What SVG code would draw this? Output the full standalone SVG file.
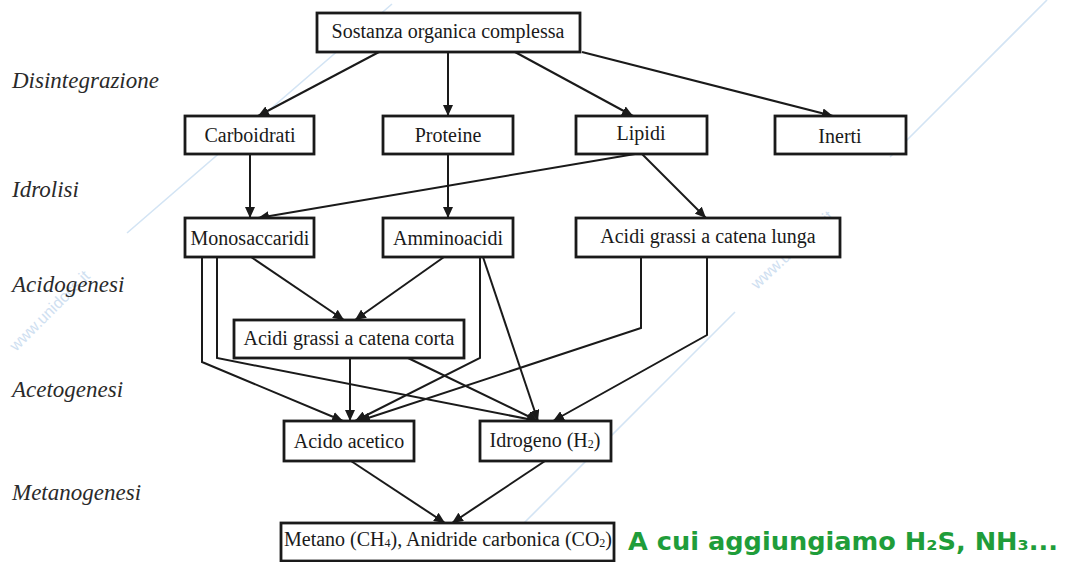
<svg xmlns="http://www.w3.org/2000/svg" width="1067" height="562" viewBox="0 0 1067 562">
<defs>
<style>
.box{fill:#fff;stroke:#1a1a1a;stroke-width:2.8}
.lbl{font-family:"Liberation Serif","Times New Roman",serif;font-size:20px;fill:#1a1a1a;text-anchor:middle}
.stage{font-family:"Liberation Serif","Times New Roman",serif;font-style:italic;font-size:23px;fill:#2a2a2a}
.con{fill:none;stroke:#1a1a1a;stroke-width:2;marker-end:url(#ah)}
.wm{stroke:#d3e4f4;stroke-width:1.6;fill:none}
.wmt{font-family:"Liberation Sans",Arial,sans-serif;font-size:16px;fill:#cfe0f1}
.note{font-family:"Comic Sans MS","DejaVu Sans",sans-serif;font-weight:bold;font-size:25px;fill:#1f9d3a}
</style>
<marker id="ah" markerWidth="11" markerHeight="10" refX="11" refY="5" orient="auto" markerUnits="userSpaceOnUse">
<path d="M0,0 L11,5 L0,10 z" fill="#1a1a1a"/>
</marker>
</defs>
<rect width="1067" height="562" fill="#fff"/>
<g id="watermark">
<line class="wm" x1="1047" y1="0" x2="890" y2="157"/>
<line class="wm" x1="735" y1="312" x2="520" y2="527"/>
<line class="wm" x1="392" y1="4" x2="127" y2="233"/>
<text class="wmt" transform="translate(757,290) rotate(-43)">www.unidocs.it</text>
<text class="wmt" transform="translate(16,352) rotate(-45)">www.unidocs.it</text>
</g>
<g id="stages">
<text class="stage" x="12" y="88">Disintegrazione</text>
<text class="stage" x="12" y="197">Idrolisi</text>
<text class="stage" x="12" y="292">Acidogenesi</text>
<text class="stage" x="12" y="397">Acetogenesi</text>
<text class="stage" x="12" y="500">Metanogenesi</text>
</g>
<g id="connectors">
<path class="con" d="M379,52 L258,116"/>
<path class="con" d="M448,52 L448,116"/>
<path class="con" d="M515,52 L633,116"/>
<path class="con" d="M582,52 L833,116"/>
<path class="con" d="M250,154 L250,218"/>
<path class="con" d="M448,154 L448,218"/>
<path class="con" d="M635,154 L258,218"/>
<path class="con" d="M642,154 L706,218"/>
<path class="con" d="M251,257 L344,320"/>
<path class="con" d="M444,257 L355,320"/>
<path class="con" d="M202,257 L202,362 L343,421"/>
<path class="con" d="M217,257 L217,358 L538,421"/>
<path class="con" d="M350,358 L350,421"/>
<path class="con" d="M408,358 L538,421"/>
<path class="con" d="M480,257 L480,358 L355,421"/>
<path class="con" d="M483,257 L538,421"/>
<path class="con" d="M641,257 L641,328 L359,421"/>
<path class="con" d="M707,257 L707,335 L553,421"/>
<path class="con" d="M351,461 L445,523"/>
<path class="con" d="M545,461 L452,523"/>
</g>
<g id="n-sostanza"><rect class="box" x="317" y="13" width="263" height="39"/><text class="lbl" x="448" y="38">Sostanza organica complessa</text></g>
<g id="n-carboidrati"><rect class="box" x="185" y="116" width="129" height="38"/><text class="lbl" x="250" y="142">Carboidrati</text></g>
<g id="n-proteine"><rect class="box" x="383" y="116" width="130" height="38"/><text class="lbl" x="448" y="142">Proteine</text></g>
<g id="n-lipidi"><rect class="box" x="576" y="116" width="131" height="38"/><text class="lbl" x="641" y="140">Lipidi</text></g>
<g id="n-inerti"><rect class="box" x="775" y="116" width="131" height="38"/><text class="lbl" x="840" y="143">Inerti</text></g>
<g id="n-monosaccaridi"><rect class="box" x="185" y="218" width="129" height="39"/><text class="lbl" x="250" y="245">Monosaccaridi</text></g>
<g id="n-amminoacidi"><rect class="box" x="383" y="218" width="130" height="39"/><text class="lbl" x="448" y="245">Amminoacidi</text></g>
<g id="n-ag-lunga"><rect class="box" x="576" y="218" width="264" height="39"/><text class="lbl" x="708" y="243">Acidi grassi a catena lunga</text></g>
<g id="n-ag-corta"><rect class="box" x="234" y="320" width="230" height="38"/><text class="lbl" x="349" y="345">Acidi grassi a catena corta</text></g>
<g id="n-acetico"><rect class="box" x="284" y="421" width="130" height="40"/><text class="lbl" x="349" y="448">Acido acetico</text></g>
<g id="n-idrogeno"><rect class="box" x="480" y="421" width="131" height="40"/><text class="lbl" x="545" y="447">Idrogeno (H<tspan font-size="12" dy="1">2</tspan><tspan dy="-1">)</tspan></text></g>
<g id="n-metano"><rect class="box" x="281" y="523" width="333" height="38"/><text class="lbl" x="448" y="546">Metano (CH<tspan font-size="12" dy="1">4</tspan><tspan dy="-1">), Anidride carbonica (CO</tspan><tspan font-size="12" dy="1">2</tspan><tspan dy="-1">)</tspan></text></g>
<g id="note">
<text class="note" x="628" y="550" textLength="430" lengthAdjust="spacingAndGlyphs">A cui aggiungiamo H₂S, NH₃...</text>
</g>
</svg>
